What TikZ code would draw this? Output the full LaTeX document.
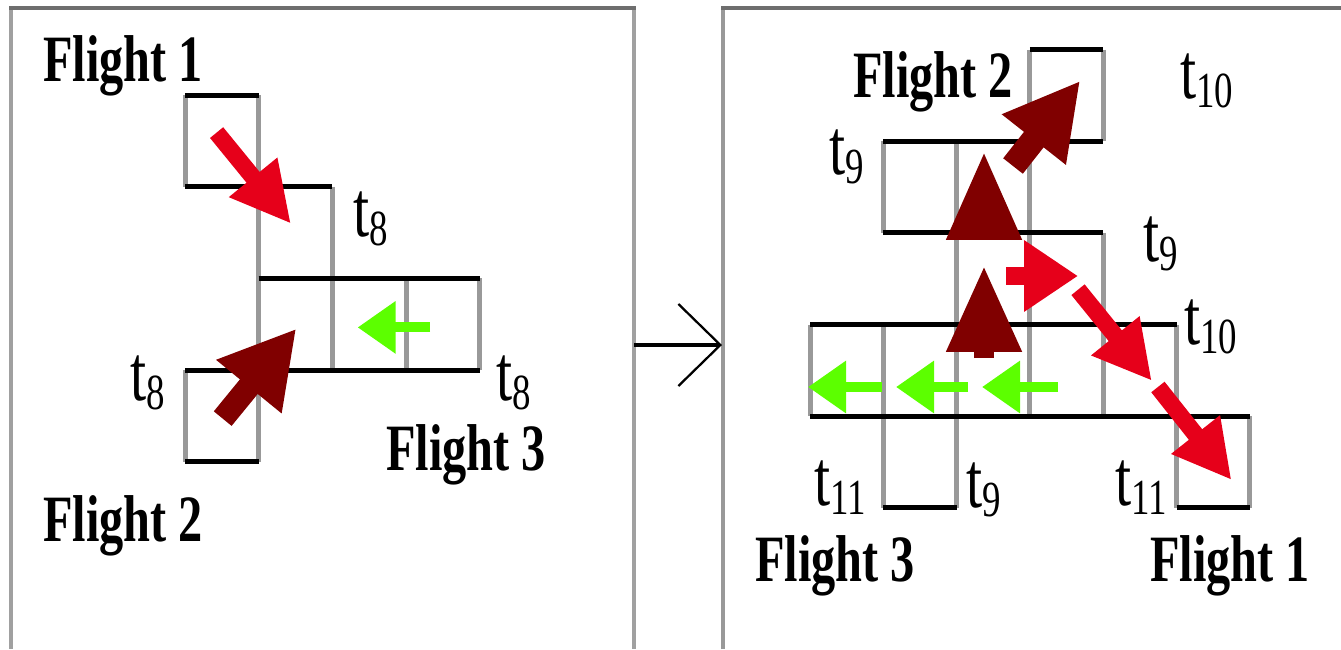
\documentclass[tikz,border=0pt]{standalone}
\usepackage{fontspec}
\setmainfont{Liberation Serif}
\usepackage{graphicx}
\usepackage{xcolor}
\usepackage{tikz}
\usetikzlibrary{arrows.meta}

\definecolor{fred}{HTML}{E6001A}
\definecolor{fdark}{HTML}{800000}
\definecolor{fgreen}{HTML}{5CFF00}
\definecolor{gridgray}{HTML}{999999}
\definecolor{framegray}{HTML}{6E6E6E}
\definecolor{sidegray}{HTML}{A0A0A0}

\newcommand\tallbox[1]{\scalebox{1}[1.37]{#1}}
\newcommand\tsub[1]{\tallbox{t\raisebox{-4pt}{\fontsize{21}{24}\selectfont#1}}}

\begin{document}
\begin{tikzpicture}[x=0.02cm,y=-0.02cm,
  hline/.style={line width=0.1cm,black},
  vline/.style={line width=0.1cm,gridgray},
  flabel/.style={font=\fontsize{27.5}{30}\selectfont\bfseries,anchor=base west,inner sep=0pt},
  tlabel/.style={font=\fontsize{33}{36}\selectfont,anchor=base west,inner sep=0pt},
  arr/.style n args={4}{line width=#1,#4,-{Triangle[length=#2,width=#3]}}]
\useasboundingbox (0,0) rectangle (1341,649);

% frames
\draw[line width=0.07cm,sidegray] (11,649) -- (11,8) (634,8) -- (634,649);
\draw[line width=0.08cm,gridgray] (723,649) -- (723,8);
\draw[line width=0.1cm,framegray] (9,8) -- (636,8) (721,8) -- (1341,8);

% left panel: time t8
\begin{scope}[shift={(185,95)},x=1.475cm,y=-1.835cm]
\foreach \c/\r in {0/0,1/1,1/2,2/2,3/2,0/3}
  \draw[vline] (\c,\r) -- ++(0,1) (\c+1,\r) -- ++(0,1);
\foreach \c/\r in {0/0,1/1,1/2,2/2,3/2,0/3}
  \draw[hline] (\c,\r) -- ++(1,0) (\c,\r+1) -- ++(1,0);
\end{scope}

\draw[arr={0.34cm}{1.2cm}{1.16cm}{fred}] (216.6,132.6) -- (291,223.8);
\draw[arr={0.46cm}{1.5cm}{1.58cm}{fdark}] (222.7,418.6) -- (296.3,328.6);
\draw[arr={0.2cm}{0.76cm}{1.0cm}{fgreen}] (430,327.4) -- (357.6,327.4);

\node[flabel] (f1a) at (43,81) {\tallbox{Flight 1}};
\node[tlabel] (t8a) at (353,236) {\tsub{8}};
\node[tlabel] (t8b) at (130,400) {\tsub{8}};
\node[tlabel] (t8c) at (496,400) {\tsub{8}};
\node[flabel] (f3a) at (386,470) {\tallbox{Flight 3}};
\node[flabel] (f2a) at (43,541) {\tallbox{Flight 2}};

% transition
\coordinate (lp) at (634,345);
\coordinate (rp) at (722,345);
\draw[line width=0.08cm,-{Straight Barb[length=0.84cm,width=1.64cm,line width=0.045cm]}] (lp) -- (rp);

% right panel: times t9 to t11
\begin{scope}[shift={(810,49.7)},x=1.4667cm,y=-1.833cm]
\foreach \c/\r in {3/0,1/1,2/1,2/2,3/2,0/3,1/3,2/3,3/3,4/3,1/4,5/4}
  \draw[vline] (\c,\r) -- ++(0,1) (\c+1,\r) -- ++(0,1);
\foreach \c/\r in {3/0,1/1,2/1,2/2,3/2,0/3,1/3,2/3,3/3,4/3,1/4,5/4}
  \draw[hline] (\c,\r) -- ++(1,0) (\c,\r+1) -- ++(1,0);
\end{scope}

\draw[arr={0.4cm}{1.74cm}{1.4cm}{fdark}] (984,358) -- (984,265);
\draw[arr={0.4cm}{1.78cm}{1.4cm}{fdark}] (984,239) -- (984,151);
\draw[arr={0.5cm}{1.5cm}{1.52cm}{fdark}] (1013,166) -- (1080.2,80.7);
\draw[arr={0.36cm}{1.08cm}{1.36cm}{fred}] (1006,276) -- (1078,276);
\draw[arr={0.34cm}{1.16cm}{1.16cm}{fred}] (1078,289.7) -- (1151.8,380.8);
\draw[arr={0.34cm}{1.16cm}{1.16cm}{fred}] (1157.9,387) -- (1231.5,480);
\foreach \a/\b in {1058/982,968/896,882/808}
  \draw[arr={0.2cm}{0.76cm}{1.0cm}{fgreen}] (\a,387) -- (\b,387);

\node[flabel] (f2b) at (853,97) {\tallbox{Flight 2}};
\node[tlabel] (t10a) at (1180,98) {\tsub{10}};
\node[tlabel] (t9a) at (829,174) {\tsub{9}};
\node[tlabel] (t9b) at (1143,261) {\tsub{9}};
\node[tlabel] (t10b) at (1184,344) {\tsub{10}};
\node[tlabel] (t11a) at (814,505) {\tsub{11}};
\node[tlabel] (t9c) at (966,507) {\tsub{9}};
\node[tlabel] (t11b) at (1115,505) {\tsub{11}};
\node[flabel] (f3b) at (755,581) {\tallbox{Flight 3}};
\node[flabel] (f1b) at (1150,581) {\tallbox{Flight 1}};
\end{tikzpicture}
\end{document}
